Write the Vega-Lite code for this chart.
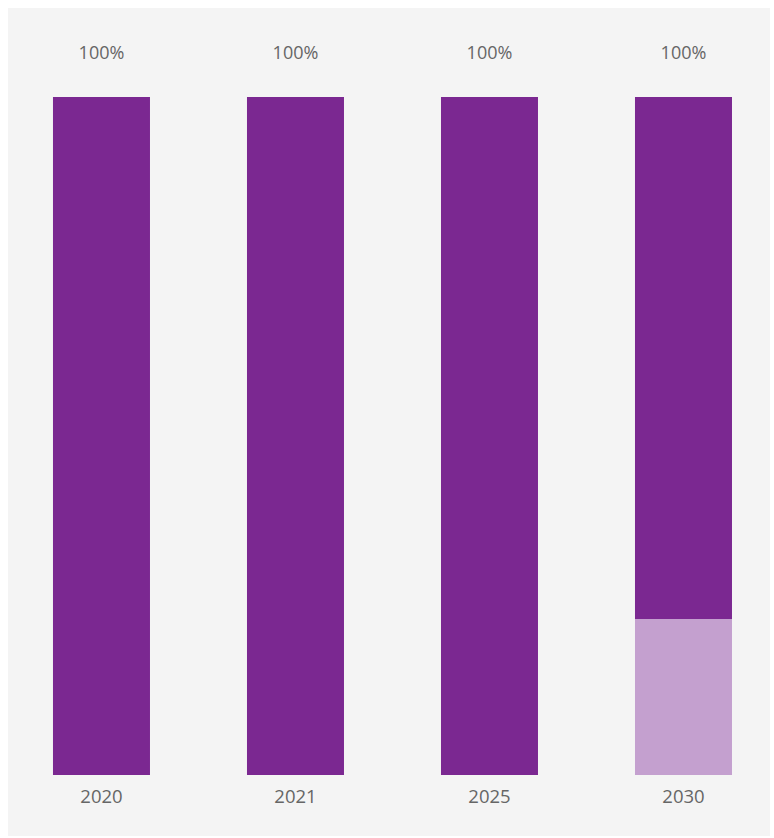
{
  "$schema": "https://vega.github.io/schema/vega-lite/v6.json",
  "width": 762,
  "height": 828,
  "autosize": {"type": "none"},
  "padding": {"left": 8, "top": 8, "right": 4, "bottom": 2},
  "background": "white",
  "config": {"view": {"fill": "#f4f4f4", "stroke": null}},
  "data": {
    "values": [
      {"year": "2020", "segment": "A", "value": 1.0},
      {"year": "2021", "segment": "A", "value": 1.0},
      {"year": "2025", "segment": "A", "value": 1.0},
      {"year": "2030", "segment": "A", "value": 0.77},
      {"year": "2030", "segment": "B", "value": 0.23}
    ]
  },
  "encoding": {
    "x": {
      "field": "year",
      "type": "nominal",
      "sort": ["2020", "2021", "2025", "2030"],
      "scale": {"paddingInner": 0.5, "paddingOuter": 0.2139, "align": 0.542},
      "axis": null
    }
  },
  "layer": [
    {
      "mark": {"type": "bar"},
      "encoding": {
        "y": {
          "field": "value",
          "type": "quantitative",
          "stack": "zero",
          "scale": {"domain": [-0.09, 1.1313], "nice": false, "zero": false},
          "axis": null
        },
        "color": {
          "field": "segment",
          "type": "nominal",
          "scale": {"domain": ["A", "B"], "range": ["#7B2891", "#C4A0CF"]},
          "legend": null
        },
        "order": {"field": "segment", "sort": "descending"}
      }
    },
    {
      "transform": [{"aggregate": [{"op": "sum", "field": "value", "as": "total"}], "groupby": ["year"]}],
      "mark": {"type": "text", "dy": -43, "baseline": "middle", "font": "Open Sans", "fontSize": 18, "color": "#666666"},
      "encoding": {
        "y": {"field": "total", "type": "quantitative"},
        "text": {"field": "total", "type": "quantitative", "format": ".0%"}
      }
    },
    {
      "transform": [{"aggregate": [{"op": "sum", "field": "value", "as": "total"}], "groupby": ["year"]}],
      "mark": {"type": "text", "dy": 22, "baseline": "middle", "font": "Open Sans", "fontSize": 18.5, "color": "#666666"},
      "encoding": {
        "y": {"datum": 0, "type": "quantitative"},
        "text": {"field": "year", "type": "nominal"}
      }
    }
  ]
}
